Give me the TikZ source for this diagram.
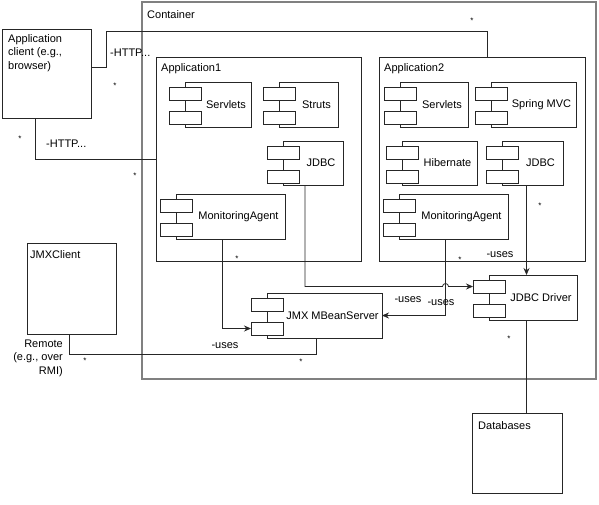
\documentclass[tikz,border=0pt]{standalone}
\usepackage{fontspec}
\setmainfont{Liberation Sans}
\usetikzlibrary{arrows.meta,calc}
\tikzset{
  box/.style={draw=black!85, line width=0.8pt, inner sep=0pt, outer sep=0pt, anchor=north west},
  cont/.style={draw=black!50, line width=1.7pt, inner sep=0pt, outer sep=0pt, anchor=north west},
  portbox/.style={draw=black!85, line width=0.8pt, fill=white, inner sep=0pt, outer sep=0pt,
    minimum width=32pt, minimum height=13pt, anchor=north west},
  txt/.style={inner sep=0pt, font=\fontsize{11}{13.5}\selectfont},
  ttl/.style={txt, anchor=base west},
  mult/.style={inner sep=0pt, anchor=base, font=\fontsize{8}{8}\selectfont},
  conn/.style={draw=black!85, line width=0.8pt},
  arr/.style={conn, -{Stealth[length=7pt,width=6pt]}},
}
\newcommand\mkbox[6]{% name, style, x1, y1, x2, y2
  \node[#2, minimum width={(#5-#3)*1pt}, minimum height={(#6-#4)*1pt}] (#1) at (#3,#4) {};}
\newcommand\comp[6]{% name, x1, y1, x2, y2, label
  \mkbox{#1}{box}{#2}{#3}{#4}{#5}
  \node[portbox] (#1p1) at ([xshift=-16pt,yshift=-5pt]#1.north west) {};
  \node[portbox] (#1p2) at ([xshift=-16pt,yshift=-29pt]#1.north west) {};
  \node[txt] (#1t) at ([xshift=8pt]#1.center) {#6};}
\newcommand\mult[3]{\node[mult] (#1) at (#2,#3+4.5) {*};}
\begin{document}
\begin{tikzpicture}[x=1pt,y=-1pt]
\useasboundingbox (0,0) rectangle (599,504);
% frames
\mkbox{cont}{cont}{142}{2}{596}{379}
\node[ttl] (contT) at (147,18) {Container};
\mkbox{app1}{box}{156}{57}{361}{261}
\node[ttl] (app1T) at (161,71) {Application1};
\mkbox{app2}{box}{379}{57}{585}{261}
\node[ttl] (app2T) at (384,71) {Application2};
\mkbox{client}{box}{2}{29}{91}{118}
\node[ttl] (ct1) at (8,42) {Application};
\node[ttl] (ct2) at (8,55.5) {client (e.g.,};
\node[ttl] (ct3) at (8,69) {browser)};
\mkbox{jmxc}{box}{27}{243}{116}{334}
\node[ttl] (jmxcT) at (30,258) {JMXClient};
\mkbox{db}{box}{472}{413}{562}{493}
\node[ttl] (dbT) at (478,429) {Databases};
% components
\comp{sva}{185}{82}{251}{127}{Servlets}
\comp{sta}{279}{82}{338}{127}{Struts}
\comp{jda}{283}{141}{343}{185}{JDBC}
\comp{maa}{176}{194}{285}{239}{MonitoringAgent}
\comp{svb}{400}{82}{468}{127}{Servlets}
\comp{spb}{491}{82}{576}{127}{Spring MVC}
\comp{hbb}{402}{141}{477}{185}{Hibernate}
\comp{jdb}{502}{141}{563}{185}{JDBC}
\comp{mab}{399}{194}{508}{239}{MonitoringAgent}
\comp{jmx}{267}{293}{382}{338}{JMX MBeanServer}
\comp{drv}{489}{275}{577}{320}{JDBC Driver}
% helper coordinates
\coordinate (mabo) at ([xshift=-8pt]mab.south);
\coordinate (jmp) at (mabo |- drvp1.west);
\coordinate (jdbo) at ([xshift=-6pt]jdb.south);
\coordinate (drvo) at ([xshift=-7pt]drv.south);
\coordinate (jmxco) at ([xshift=-2pt]jmxc.south);
\coordinate (jmxin) at ([xshift=-8pt]jmx.south);
% connectors
\draw[conn] ([yshift=-38pt]client.north east) -| (106,31) -| ([xshift=5pt]app2.north);
\draw[conn] ([xshift=33pt]client.south west) |- (app1.west);
\draw[arr] ([xshift=-8pt]maa.south) |- (jmxp2.west);
\draw[arr] ([xshift=-8pt]jda.south) |- ([xshift=-3pt]jmp) arc[start angle=180,end angle=0,radius=3pt] -- (drvp1.west);
\draw[arr] (mabo) |- (jmx.east);
\draw[arr] (jdbo) -- (jdbo |- drv.north);
\draw[conn] (drvo) -- (drvo |- db.north);
\draw[conn] (jmxco) -- ++(0,20) -| (jmxin);
% labels
\node[ttl] (h1) at (110,56) {-HTTP...};
\node[ttl] (h2) at (46,147) {-HTTP...};
\node[txt,anchor=base] (u1) at (225,348) {-uses};
\node[txt,anchor=base] (u2) at (408,302) {-uses};
\node[txt,anchor=base] (u3) at (441,305) {-uses};
\node[txt,anchor=base] (u4) at (500,257) {-uses};
\node[txt,anchor=base east] (r1) at (63,347) {Remote};
\node[txt,anchor=base east] (r2) at (63,360.5) {(e.g., over};
\node[txt,anchor=base east] (r3) at (63,374) {RMI)};
% multiplicities
\mult{m1}{115}{84}
\mult{m2}{472}{19}
\mult{m3}{20}{137}
\mult{m4}{135}{174}
\mult{m5}{237}{257}
\mult{m6}{460}{258}
\mult{m7}{540}{204}
\mult{m8}{509}{337}
\mult{m9}{85}{359}
\mult{m10}{301}{360}
\end{tikzpicture}
\end{document}
